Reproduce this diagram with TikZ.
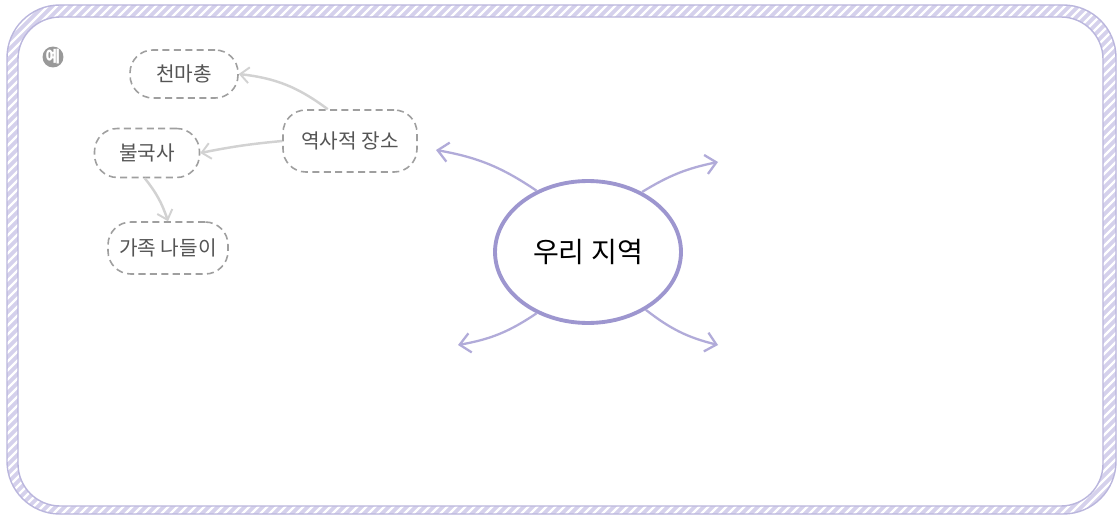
\documentclass[tikz,border=0pt]{standalone}
\usepackage{fontspec}
\newfontfamily\kr{Noto Sans CJK KR}
\usepackage{tikz}
\usetikzlibrary{arrows.meta,positioning,shapes.geometric}
\definecolor{lila}{HTML}{9D96CF}
\definecolor{lilahell}{HTML}{D5D1EC}
\definecolor{grau}{HTML}{555555}
\definecolor{pfeilgrau}{HTML}{D2D2D2}

\begin{document}
\begin{tikzpicture}[%
x={(0.02cm,0cm)},
y={(0cm,-0.02cm)},
blase/.style={draw=gray!75,dashed,line width=0.9pt,dash pattern=on 4pt off 2.5pt,rounded corners=13pt,fill=white,font=\kr\fontsize{11.5}{13}\selectfont,text=grau,inner sep=0pt},
haupt/.style={ellipse,draw=lila,line width=2.2pt,fill=white,font=\kr\fontsize{16}{18}\selectfont,inner sep=0pt},
ast/.style={draw=lila!80,line width=1.3pt,-{Straight Barb[length=6pt,width=11pt,line width=1.3pt]}},
zweig/.style={draw=pfeilgrau,line width=1.4pt,-{Straight Barb[length=5pt,width=9pt,line width=1.1pt]}},
]
\useasboundingbox (0,0) rectangle (1119,517);

%Rahmen
\begin{scope}
\clip[rounded corners=30] (7,5) rectangle (1116,514);
\fill[lilahell] (0,0) rectangle (1119,517);
\foreach \i in {0,9,...,1647}
  \draw[white,line width=1.3pt] (\i-520,520) -- (\i,0);
\end{scope}
\fill[white,rounded corners=24] (18,17) rectangle (1103,506);
\draw[lila!70,line width=0.8pt,rounded corners=30] (7,5) rectangle (1116,514);
\draw[lila!70,line width=0.8pt,rounded corners=24] (18,17) rectangle (1103,506);

%Badge
\node[circle,fill=gray!80,text=white,inner sep=0pt,minimum size=0.42cm,font=\kr\fontsize{9}{10}\selectfont\bfseries](bsp) at (53,57){예};

%Knoten
\node[haupt,minimum width=3.72cm,minimum height=2.84cm](mitte) at (588,252){우리 지역};
\node[blase,minimum width=2.16cm,minimum height=0.96cm](chm) at (184,74){천마총};
\node[blase,minimum width=2.68cm,minimum height=1.24cm](ort) at (350,141){역사적 장소};
\node[blase,minimum width=2.10cm,minimum height=0.98cm](bgs) at (147,153){불국사};
\node[blase,minimum width=2.40cm,minimum height=1.04cm](fam) at (168,248){가족 나들이};

%Pfeile
\coordinate (ol) at (436,150);
\coordinate (or) at (718,162);
\coordinate (ul) at (458,345);
\coordinate (ur) at (718,345);
\draw[ast] (mitte.130) to[bend right=12] (ol);
\draw[ast] (mitte.48) to[bend left=10] (or);
\draw[ast] (mitte.230) to[bend left=12] (ul);
\draw[ast] (mitte.-45) to[bend right=12] (ur);

\draw[zweig] (ort.125) to[bend right=15] (chm.east);
\draw[zweig] (ort.west) to[bend right=3] (bgs.east);
\draw[zweig] (bgs.-95) to[bend left=10] (fam.north);

\end{tikzpicture}
\end{document}
